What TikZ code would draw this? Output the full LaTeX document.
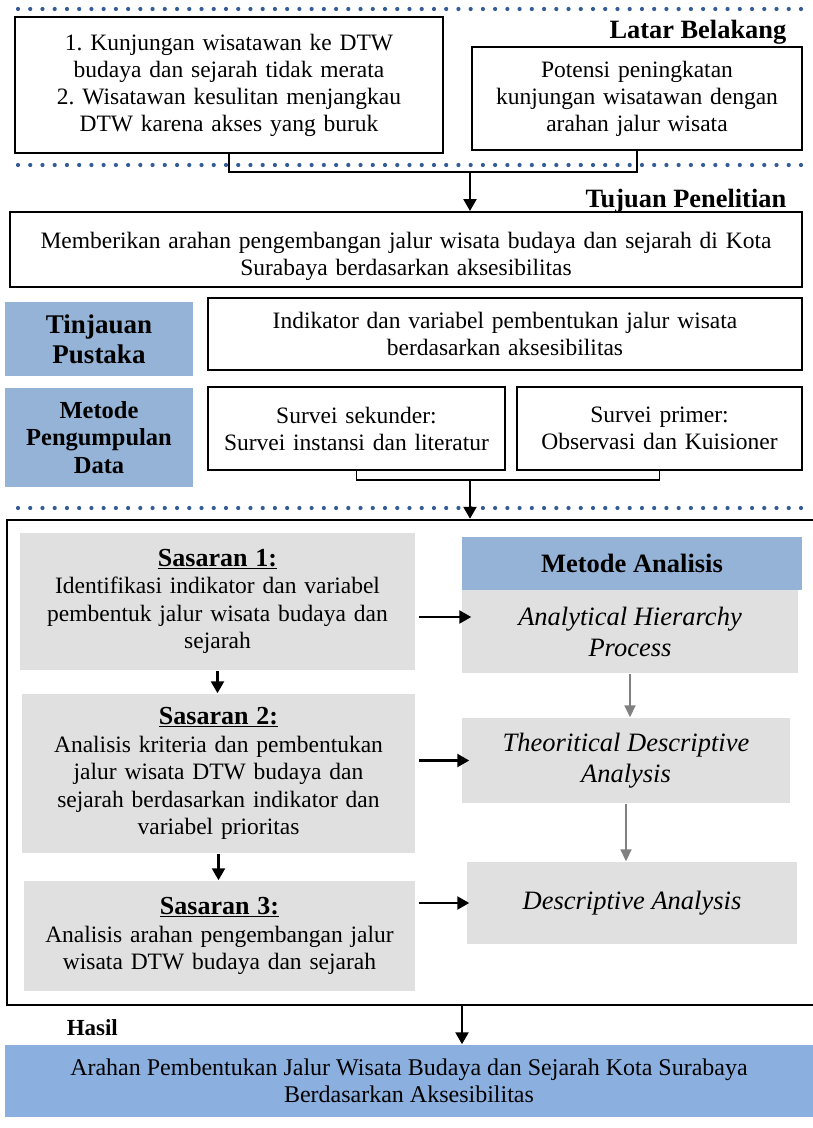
\documentclass[tikz,border=0pt]{standalone}
\usepackage{fontspec}
\setmainfont{Liberation Serif}
\usetikzlibrary{arrows.meta}
\definecolor{dotblue}{RGB}{52,92,150}
\definecolor{headblue}{RGB}{149,179,215}
\definecolor{hasilblue}{RGB}{139,176,224}
\definecolor{boxgray}{RGB}{224,224,224}
\newcommand{\sasjudul}[1]{{\fontsize{26}{30}\selectfont\bfseries\underline{#1}}}
\frenchspacing

\begin{document}
\begin{tikzpicture}[x = 1pt, y = -1pt, line width = 1.5pt,
  txt/.style = {font = \fontsize{23.5}{27}\selectfont, align = center, inner sep = 0pt},
  sastxt/.style = {txt, fill = boxgray, font = \fontsize{23.5}{27.5}\selectfont},
  metodetxt/.style = {txt, fill = boxgray, font = \fontsize{26.5}{31}\selectfont\itshape},
  whitebox/.style = {txt, draw, line width = 2pt, fill = white},
  bluebox/.style = {txt, fill = headblue},
  heading/.style = {font = \fontsize{26.4}{30}\selectfont\bfseries, inner sep = 0pt},
  dotline/.style = {dotblue, line width = 4.2pt, line cap = round, dash pattern = on 0pt off 12.234pt},
  blackarrow/.style = {-{Triangle[length = 12pt, width = 13pt]}, line width = 2.4pt},
  grayarrow/.style = {-{Triangle[length = 12pt, width = 11pt]}, line width = 2pt, gray}]
\useasboundingbox (0, 0) rectangle (813, 1128);
\draw[dotline] (18, 9) -- (803, 9);
\draw[dotline] (18, 165) -- (803, 165);
\draw[dotline] (18, 508) -- (803, 508);

\node[heading, anchor = east] (latar) at (787, 32) {Latar Belakang};
\node[whitebox, minimum width = 428, minimum height = 136, text width = 410] (latar1) at (229, 85)
  {1. Kunjungan wisatawan ke DTW\\budaya dan sejarah tidak merata\\2. Wisatawan kesulitan menjangkau\\DTW karena akses yang buruk};
\node[whitebox, minimum width = 330, minimum height = 103, text width = 310] (latar2) at (637, 98.5)
  {Potensi peningkatan\\kunjungan wisatawan dengan\\arahan jalur wisata};
\node[heading, anchor = east] (tujuan) at (787, 201) {Tujuan Penelitian};
\node[whitebox, minimum width = 792, minimum height = 75, text width = 780] (tujuan1) at (406, 249.5)
  {\rule{0pt}{30pt}Memberikan arahan pengembangan jalur wisata budaya dan sejarah di Kota\\Surabaya berdasarkan aksesibilitas};
\coordinate (join1) at (470, 172);
\draw (latar1.south) -- (latar1.south |- join1) -| (latar2.south);
\draw[blackarrow] (join1) -- (join1 |- tujuan1.north);

\node[bluebox, minimum width = 188, minimum height = 74, font = \fontsize{27}{30}\selectfont\bfseries] (pustaka) at (99, 339)
  {Tinjauan\\Pustaka};
\node[whitebox, minimum width = 594, minimum height = 72, text width = 580] (pustaka1) at (505, 334)
  {Indikator dan variabel pembentukan jalur wisata\\berdasarkan aksesibilitas};
\node[bluebox, minimum width = 188, minimum height = 99, font = \fontsize{24.5}{27.5}\selectfont\bfseries] (metode) at (99, 437.5)
  {Metode\\Pengumpulan\\Data};
\node[whitebox, minimum width = 297, minimum height = 83, text width = 290] (sekunder) at (356.5, 428.5)
  {Survei sekunder:\\Survei instansi dan literatur};
\node[whitebox, minimum width = 285, minimum height = 83, text width = 278] (primer) at (659.5, 428.5)
  {Survei primer:\\Observasi dan Kuisioner};
\coordinate (join2) at (470, 480);
\draw (sekunder.south) -- (sekunder.south |- join2) -| (primer.south);

\node[draw, line width = 2.5pt, minimum width = 810, minimum height = 485] (kerangka) at (412, 762.5) {};
\draw[blackarrow] (join2) -- (join2 |- kerangka.north);

\node[sastxt, minimum width = 395, minimum height = 137, text width = 385] (sas1) at (217.5, 601.5)
  {\sasjudul{Sasaran 1:}\\Identifikasi indikator dan variabel\\pembentuk jalur wisata budaya dan\\sejarah};
\node[sastxt, minimum width = 393, minimum height = 159, text width = 385] (sas2) at (218.5, 773.5)
  {\sasjudul{Sasaran 2:}\\Analisis kriteria dan pembentukan\\jalur wisata DTW budaya dan\\sejarah berdasarkan indikator dan\\variabel prioritas};
\node[sastxt, minimum width = 391, minimum height = 110, text width = 385] (sas3) at (219.5, 936)
  {\sasjudul{Sasaran 3:}\\Analisis arahan pengembangan jalur\\wisata DTW budaya dan sejarah};

\node[bluebox, minimum width = 340, minimum height = 53, font = \fontsize{26.5}{30}\selectfont\bfseries] (analisis) at (632, 563.5)
  {Metode Analisis};
\node[metodetxt, minimum width = 336, minimum height = 83] (ahp) at (630, 631.5) {Analytical Hierarchy\\Process};
\node[metodetxt, minimum width = 328, minimum height = 85] (tda) at (626, 760.5) {Theoritical Descriptive\\Analysis};
\node[metodetxt, minimum width = 330, minimum height = 82] (da) at (632, 903) {Descriptive Analysis};

\draw[blackarrow] (sas1.south) -- (sas1.south |- sas2.north);
\draw[blackarrow] (sas2.south) -- (sas2.south |- sas3.north);
\draw[blackarrow] ([xshift = 3]sas1.east |- 0, 617) -- ([xshift = 10]ahp.west |- 0, 617);
\draw[blackarrow] ([xshift = 3]sas2.east |- tda.west) -- ([xshift = 8]tda.west);
\draw[blackarrow] ([xshift = 3]sas3.east |- da.west) -- ([xshift = 3]da.west);
\draw[grayarrow] (ahp.south) -- (ahp.south |- tda.north);
\draw[grayarrow] (tda.south) -- (tda.south |- da.north);

\node[heading, anchor = west, font = \fontsize{23}{26}\selectfont\bfseries] (hasil) at (66, 1028) {Hasil};
\node[txt, fill = hasilblue, minimum width = 808, minimum height = 72, font = \fontsize{24}{27}\selectfont] (hasil1) at (409, 1081)
  {Arahan Pembentukan Jalur Wisata Budaya dan Sejarah Kota Surabaya\\Berdasarkan Aksesibilitas};
\coordinate (join3) at (462, 1005);
\draw[blackarrow] (kerangka.south -| join3) -- (hasil1.north -| join3);
\end{tikzpicture}
\end{document}
